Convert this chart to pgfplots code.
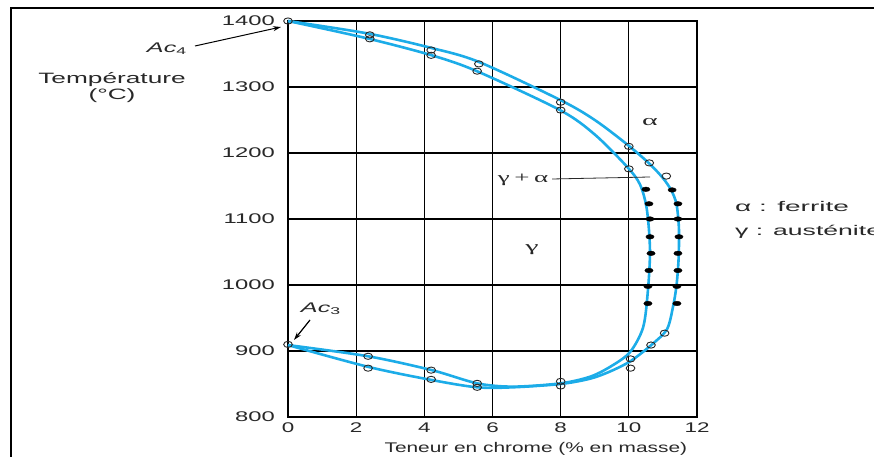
\documentclass[border=0pt]{standalone}
\usepackage{pgfplots}
\pgfplotsset{compat=1.18}
\usepackage{graphicx}
\usepackage{fontspec}
\setmainfont{Liberation Sans}
\newfontfamily\serifgreek{Liberation Serif}
\usetikzlibrary{arrows.meta}

\definecolor{boundary}{RGB}{28,172,232}
\definecolor{ink}{RGB}{40,40,40}
% wide lettering: \wide[factor]{size}{text}
\newcommand\wide[3][1.65]{{\fontsize{#2}{#2}\selectfont\color{ink}\scalebox{#1}[1]{#3}}}
\newcommand\yt[1]{\wide[1.7]{14}{#1}}
\newcommand\xt[1]{\wide[1.6]{14}{#1}}

\begin{document}
\begin{tikzpicture}[x=1pt,y=1pt]
\useasboundingbox (0,0) rectangle (874,457);
% page frame
\draw[line width=2pt,black] (10.5,0) -- (10.5,449.3) -- (880,449.3);

\begin{axis}[
  at={(288pt,40pt)}, anchor=south west,
  scale only axis, width=409pt, height=396pt,
  xmin=0, xmax=12, ymin=800, ymax=1400,
  xtick={0,2,...,12}, ytick={800,900,...,1400},
  xticklabels={\xt{0},\xt{2},\xt{4},\xt{6},\xt{8},\xt{10},\xt{12}},
  yticklabels={\yt{800},\yt{900},\yt{1000},\yt{1100},\yt{1200},\yt{1300},\yt{1400}},
  xticklabel style={inner sep=0pt, anchor=north, yshift=-6pt},
  yticklabel style={inner sep=0pt, anchor=east, xshift=-13pt},
  tick style={draw=none},
  grid=major,
  major grid style={black, line width=1.1pt},
  axis line style={black, line width=1.1pt},
  clip=false,
  xlabel={\wide[1.49]{14}{Teneur en chrome (\% en masse)}},
  xlabel style={inner sep=0pt, at={(axis description cs:0.606,0)}, anchor=base, yshift=-35.7pt},
]
% (gamma+alpha)/alpha boundary
\addplot[draw=boundary, line width=2.6pt, smooth, tension=0.5] coordinates {
  (0,1400) (2.35,1381) (4.22,1359) (5.6,1338) (8.0,1280) (9.0,1250) (9.95,1213)
  (10.6,1184) (11.0,1162) (11.25,1143) (11.4,1122) (11.47,1085) (11.46,1040)
  (11.4,1000) (11.3,968) (11.12,933) (10.68,910) (10.06,885) (9.45,869) (8.86,858)
  (8.0,850) (6.6,845) (5.55,845) (4.22,856) (2.35,876) (0,909)
};
% gamma/(gamma+alpha) boundary
\addplot[draw=boundary, line width=2.6pt, smooth, tension=0.5] coordinates {
  (0,1400) (2.3,1374) (4.22,1348) (5.54,1324) (7.98,1265) (9.0,1228) (9.95,1179)
  (10.33,1152) (10.53,1114) (10.62,1053) (10.56,992) (10.42,936) (10.03,898)
  (9.45,876) (8.86,861) (8.0,851) (6.6,846) (5.55,851) (4.22,871) (2.35,892) (0,909)
};
% measured transformation points (open)
\addplot[only marks, mark=o, mark size=3.1pt,
  mark options={draw=ink, fill=white, line width=0.9pt, xscale=1.4}] coordinates {
  (0,1400) (2.4,1379) (2.4,1373) (4.2,1356) (4.2,1348) (5.6,1335) (5.55,1324)
  (8,1277) (8,1265) (10,1210) (10,1176) (10.6,1185) (11.1,1165)
  (0,910) (2.35,892) (2.35,874) (4.2,871) (4.2,857) (5.55,851) (5.55,845)
  (8,854) (8,847) (10.05,888) (10.05,874) (10.65,909) (11.05,927)
};
% measured points (filled)
\addplot[only marks, mark=*, mark size=2.3pt,
  mark options={draw=black, fill=black, xscale=1.8}] coordinates {
  (10.50,1145) (10.59,1123) (10.62,1100) (10.62,1073) (10.65,1048) (10.59,1022) (10.56,998) (10.56,972)
  (11.27,1144) (11.44,1123) (11.44,1100) (11.47,1073) (11.44,1048) (11.44,1022) (11.41,998) (11.41,972)
};
\end{axis}

% axis title on the left
\node[inner sep=0pt, anchor=base] at (112,373) {\wide[1.75]{15}{Température}};
\node[inner sep=0pt, anchor=base] at (112,357) {\wide[1.75]{15}{(°C)}};
% annotations
\node[inner sep=0pt] at (167,408) {\wide[1.8]{14}{\textit{Ac}\textsubscript{4}}};
\draw[-{Stealth[length=8pt,width=5pt]}, line width=1pt, black] (195,411) -- (281,430);
\node[inner sep=0pt] at (321,148) {\wide[1.8]{14}{\textit{Ac}\textsubscript{3}}};
\draw[-{Stealth[length=8pt,width=5pt]}, line width=1.2pt, black] (310,137) -- (294,117);
\node[inner sep=0pt] at (650,335) {\wide[2]{15}{\serifgreek α}};
\node[inner sep=0pt] at (523,277) {\wide[1.8]{15}{\serifgreek γ\,+\,α}};
\draw[line width=0.8pt, ink] (552,278) -- (650,280);
\node[inner sep=0pt] at (532,207) {\wide[2]{15}{\serifgreek γ}};
\node[inner sep=0pt, anchor=base west] at (735,245) {\wide[2]{14}{α : ferrite}};
\node[inner sep=0pt, anchor=base west] at (735,221) {\wide[1.9]{14}{γ : austénite}};
\end{tikzpicture}
\end{document}
